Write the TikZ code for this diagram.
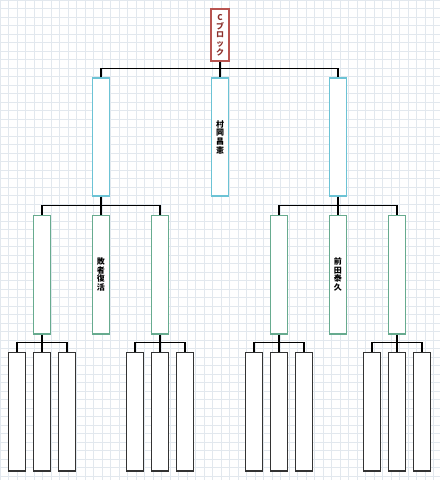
\documentclass[tikz,border=0pt]{standalone}
\usepackage{fontspec}
\newfontfamily\jpfont{Noto Sans CJK JP}
\usepackage{tikz}

\definecolor{gridcol}{HTML}{E2E8EE}
\definecolor{topred}{HTML}{B85450}
\definecolor{toptext}{HTML}{8B2F2B}
\definecolor{roundblue}{HTML}{6CC3D5}
\definecolor{roundgreen}{HTML}{67AB8F}
\definecolor{leafgray}{HTML}{333333}

\tikzset{
    gridline/.style={gridcol, line width=0.4pt},
    link/.style={line width=1pt, black},
    vtext/.style={font=\jpfont\bfseries\fontsize{6}{6.5}\selectfont, align=center},
    topbox/.style={draw=topred, line width=1pt, fill=white, inner sep=0pt,
        minimum width=13.5pt, minimum height=39pt, vtext, text=toptext},
    bluebox/.style={draw=roundblue, line width=1pt, fill=white, inner sep=0pt,
        minimum width=13pt, minimum height=88.5pt, vtext},
    greenbox/.style={draw=roundgreen, line width=1pt, fill=white, inner sep=0pt,
        minimum width=13pt, minimum height=89pt, vtext},
    leafbox/.style={draw=leafgray, line width=1pt, fill=white, inner sep=0pt,
        minimum width=13pt, minimum height=89pt}
}

\begin{document}
\begin{tikzpicture}[x=0.75pt, y=-0.75pt]
    % Background and grid
    \useasboundingbox (0,0) rectangle (440,480);
    \fill[white] (0,0) rectangle (440,480);
    \foreach \i in {0,...,51} \draw[gridline] (\i*8.5,0) -- (\i*8.5,480);
    \foreach \j in {0,...,56} \draw[gridline] (0,\j*8.5) -- (440,\j*8.5);

    % Block title
    \node[topbox] (top) at (220,35) {C\\ブ\\ロ\\ッ\\ク};

    % Second round
    \node[bluebox] (b1) at (101,137) {};
    \node[bluebox] (b2) at (220,137) {村\\岡\\昌\\憲};
    \node[bluebox] (b3) at (338,137) {};

    % First round
    \node[greenbox] (c1) at (42,274.5) {};
    \node[greenbox] (c2) at (101,274.5) {敗\\者\\復\\活};
    \node[greenbox] (c3) at (160,274.5) {};
    \node[greenbox] (c4) at (279,274.5) {};
    \node[greenbox] (c5) at (338,274.5) {前\\田\\泰\\久};
    \node[greenbox] (c6) at (397,274.5) {};

    % Entry slots under each open first round box
    \foreach \p in {1,3,4,6} {
        \node[leafbox] (d\p a) at ([xshift=-18.75pt]c\p |- 0,411.5) {};
        \node[leafbox] (d\p b) at (c\p |- 0,411.5) {};
        \node[leafbox] (d\p c) at ([xshift=18.75pt]c\p |- 0,411.5) {};
        \draw[link] (c\p.south) -- (d\p b.north);
        \draw[link] (d\p a.north) -- ++(0,-9) -| (d\p c.north);
    }

    % Bracket lines
    \draw[link] (top.south) -- (b2.north);
    \draw[link] (b1.north) -- ++(0,-9) -| (b3.north);
    \draw[link] (b1.south) -- (c2.north);
    \draw[link] (c1.north) -- ++(0,-9) -| (c3.north);
    \draw[link] (b3.south) -- (c5.north);
    \draw[link] (c4.north) -- ++(0,-9) -| (c6.north);
\end{tikzpicture}
\end{document}
